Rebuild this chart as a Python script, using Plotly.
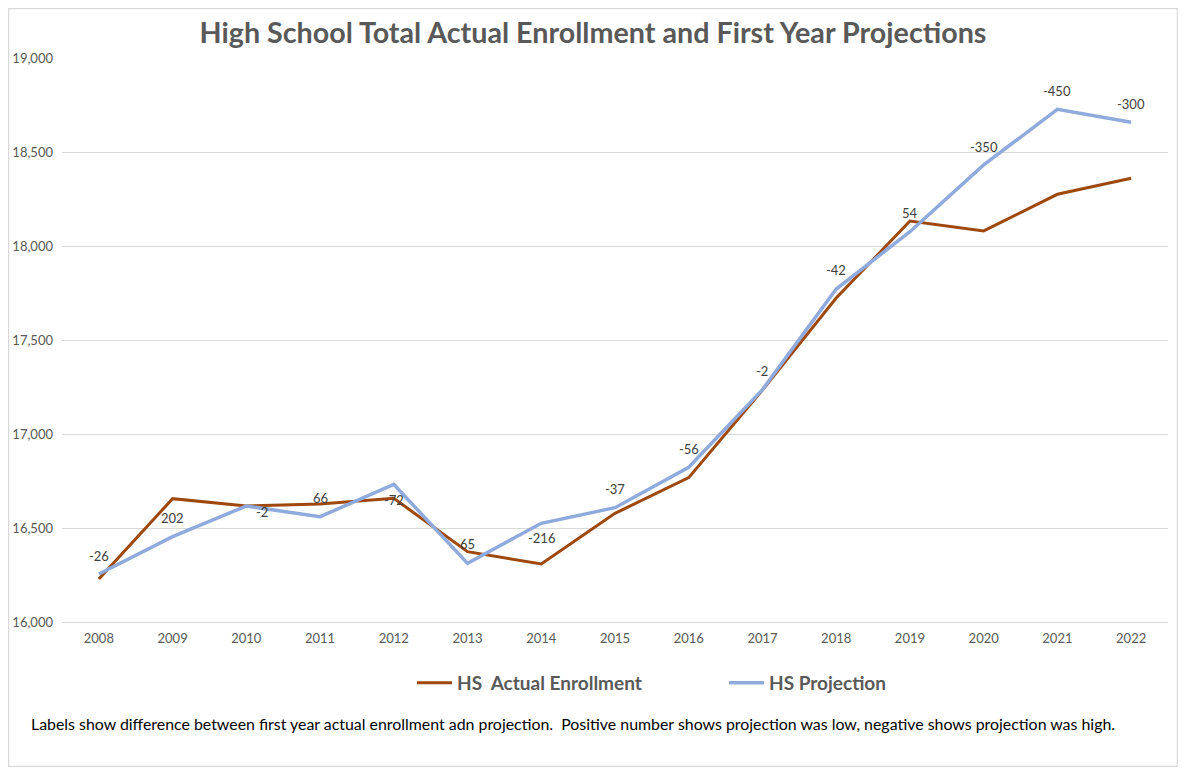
import plotly.graph_objects as go

years = [str(y) for y in range(2008, 2023)]
actual = [16229, 16656, 16617, 16628, 16658, 16374, 16309, 16578, 16768, 17234, 17723, 18133, 18080, 18275, 18360]
projection = [16255, 16454, 16617, 16560, 16732, 16312, 16525, 16608, 16823, 17236, 17771, 18076, 18431, 18727, 18658]
diff_labels = ["-26", "202", "-2", "66", "-72", "65", "-216", "-37", "-56", "-2", "-42", "54", "-350", "-450", "-300"]

# label placement relative to the projection point (pixels)
label_shift_y = [18, 19, -6, 19, -16, 19, -15, 19, 18, 19, 19, 19, 18, 18, 18]
label_shift_x = [0, 0, 16, 0, 0, 0, 0, 0, 0, 0, 0, 0, 0, 0, 0]

OFF = 8  # page body margin
W, H = 1186 - 2 * OFF, 775 - 2 * OFF
ml = 62 - OFF
mt = 58 - OFF
mr = W - (1168 - OFF)
mb = H - (622 - OFF)
pw, ph = W - ml - mr, H - mt - mb

def px(x):  # screen x -> paper
    return (x - OFF - ml) / pw

def py(y):  # screen y -> paper
    return (H - mb - (y - OFF)) / ph

FONT = "Lato"
GRAY = "#595959"

fig = go.Figure()
fig.add_trace(go.Scatter(x=years, y=actual, mode="lines", name="<b>HS  Actual Enrollment</b>",
                         line=dict(color="#9E480E", width=3)))
fig.add_trace(go.Scatter(x=years, y=projection, mode="lines", name="<b>HS Projection</b>",
                         line=dict(color="#8FAADC", width=3.5)))

for i, (v, t, sy, sx) in enumerate(zip(projection, diff_labels, label_shift_y, label_shift_x)):
    fig.add_annotation(x=i, y=v, xref="x", yref="y", text=t, showarrow=False, yshift=sy, xshift=sx,
                       font=dict(family=FONT, size=13, color="#404040"))

fig.add_annotation(xref="paper", yref="paper", x=px(29), y=py(723), xanchor="left", yanchor="middle",
                   text="Labels show difference between first year actual enrollment adn projection.  Positive number shows projection was low, negative shows projection was high.",
                   showarrow=False, font=dict(family=FONT, size=15.9, color="#000000"))

fig.add_shape(type="rect", xref="paper", yref="paper", x0=px(OFF + 0.5), x1=px(OFF + W - 0.5),
              y0=py(OFF + H - 0.5), y1=py(OFF + 0.5),
              line=dict(color="#d9d9d9", width=1.5), fillcolor="rgba(0,0,0,0)", layer="below")

fig.update_layout(
    width=W, height=H,
    margin=dict(l=ml, r=mr, t=mt, b=mb, autoexpand=False),
    paper_bgcolor="white", plot_bgcolor="white",
    title=dict(text="<b>High School Total Actual Enrollment and First Year Projections</b>",
               x=0.5, xanchor="center", y=1 - (33 - OFF) / H, yanchor="middle",
               font=dict(family=FONT, size=28.7, color=GRAY)),
    xaxis=dict(type="category", range=[-0.5, 14.5], showgrid=False, zeroline=False, automargin=False,
               showline=True, linecolor="#d9d9d9", ticks="", ticklabelstandoff=4,
               tickfont=dict(family=FONT, size=13, color=GRAY)),
    yaxis=dict(range=[16000, 19000], dtick=500, tickformat=",d", showgrid=True, gridcolor="#d9d9d9",
               zeroline=False, showline=False, ticks="", ticklabelstandoff=8, automargin=False,
               tickfont=dict(family=FONT, size=13, color=GRAY)),
    legend=dict(orientation="h", x=px(412), xanchor="left", y=py(683), yanchor="middle",
                font=dict(family=FONT, size=19, color=GRAY), itemwidth=35,
                entrywidthmode="pixels", entrywidth=262),
    showlegend=True,
)

fig.write_html("out.html")
